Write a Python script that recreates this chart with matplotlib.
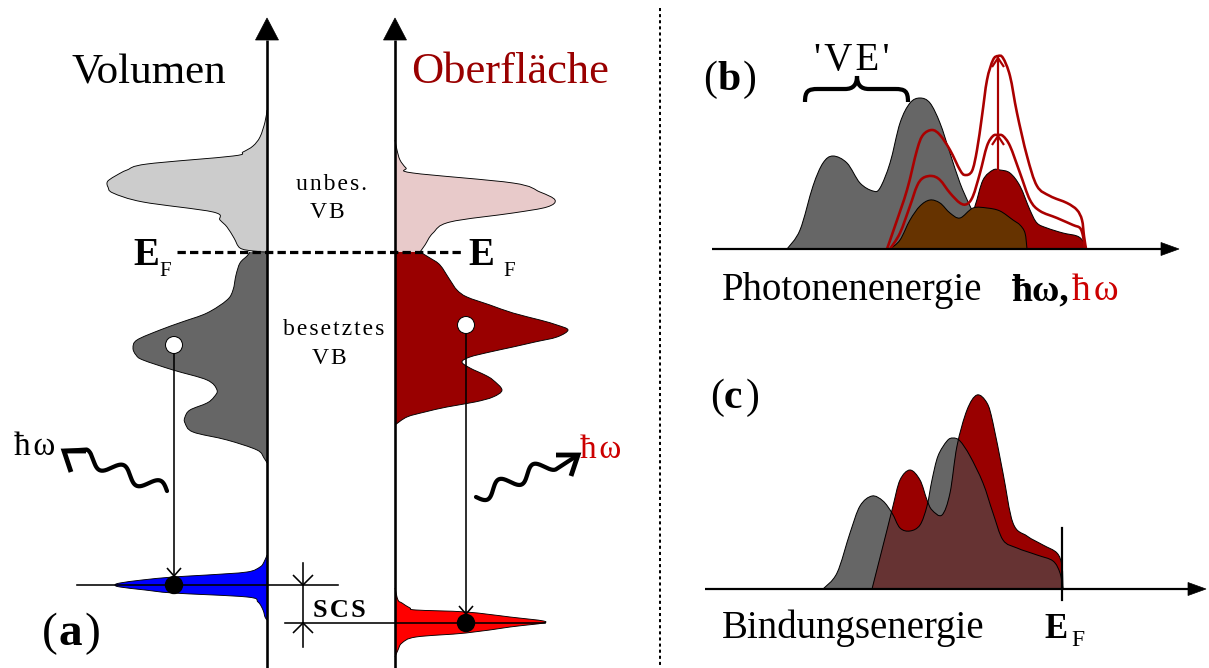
import matplotlib.pyplot as plt
import numpy as np
from matplotlib.patches import Polygon, Circle, PathPatch
from matplotlib.path import Path

plt.rcParams["font.family"] = ["Liberation Serif", "DejaVu Serif"]
plt.rcParams["lines.scale_dashes"] = False

W, H = 1209, 668
PX = 0.72  # points per pixel at dpi=100

# ---- panel (a): density of states, energy runs upward (canvas rows) ----
axis_vol_x = 267
axis_surf_x = 395
fermi_y = 252

vol_unocc_e = [110, 122, 137, 146, 152, 156, 164, 170, 175, 180, 183, 187, 193, 202, 212, 220, 227, 238, 248, 251, 252]
vol_unocc_d = [0, 2, 7, 14, 24, 34, 120, 140, 150, 158, 160, 159, 154, 124, 54, 47, 40, 33, 27, 14, 0]

vol_occ_e = [252, 256, 263, 275, 290, 300, 313, 322, 330, 340, 348, 355, 360, 370, 380, 390, 397, 403, 410, 417, 423, 432, 440, 450, 458, 463]
vol_occ_d = [17, 20, 27, 31, 34, 40, 60, 85, 107, 130, 134, 131, 124, 94, 60, 50, 53, 60, 77, 82, 82, 74, 40, 10, 3, 0]

vol_core_e = [555, 562, 567, 572, 575, 577, 580, 583, 585, 587, 590, 593, 597, 602, 610, 617, 620]
vol_core_d = [0, 3, 7, 20, 60, 94, 125, 147, 152, 147, 122, 94, 20, 9, 4, 2, 0]

surf_unocc_e = [140, 150, 160, 168, 173, 183, 192, 200, 207, 213, 222, 233, 245, 252]
surf_unocc_d = [0, 2, 5, 11, 18, 118, 145, 160, 152, 118, 55, 38, 30, 25]

surf_occ_e = [252, 258, 265, 280, 290, 297, 305, 313, 320, 325, 330, 337, 342, 347, 352, 357, 362, 368, 375, 380, 390, 397, 402, 407, 412, 417, 425]
surf_occ_d = [25, 35, 45, 55, 62, 72, 95, 118, 145, 162, 173, 162, 140, 118, 95, 75, 67, 75, 90, 98, 107, 98, 80, 52, 30, 12, 0]

surf_core_e = [588, 600, 603, 608, 610, 612, 617, 622, 627, 633, 637, 643, 650, 657]
surf_core_d = [0, 3, 7, 15, 21, 71, 115, 151, 115, 71, 21, 7, 3, 0]

vol_hole = (174, 345)
vol_core_y = 585
surf_hole = (466, 325)
surf_core_y = 623

# ---- panel (b): photon energy spectra ----
b_base = 249
b_gray_x = [787, 800, 813, 823, 833, 847, 860, 873, 880, 890, 900, 910, 920, 930, 940, 950, 960, 970, 980, 987]
b_gray_h = [0, 19, 63, 86, 93, 86, 66, 58, 61, 86, 126, 146, 151, 146, 126, 96, 66, 43, 23, 0]

b_red_x = [937, 967, 975, 983, 993, 1000, 1010, 1020, 1030, 1037, 1047, 1063, 1077, 1083, 1087]
b_red_h = [0, 23, 43, 69, 79, 79, 76, 63, 39, 26, 21, 16, 13, 8, 0]

b_brown_x = [890, 900, 910, 920, 930, 940, 950, 960, 973, 987, 1000, 1013, 1020, 1025, 1027]
b_brown_h = [0, 9, 29, 43, 49, 46, 36, 31, 41, 41, 38, 29, 24, 16, 0]

b_low_x = [890, 900, 910, 917, 923, 932, 940, 950, 960, 967, 973, 980, 987, 993, 998, 1003, 1010, 1020, 1030, 1040, 1057, 1073, 1080, 1083, 1085]
b_low_h = [0, 16, 43, 63, 71, 73, 69, 56, 46, 45, 53, 76, 103, 113, 114, 113, 103, 76, 49, 38, 31, 24, 21, 13, 0]

b_up_x = [887, 895, 907, 917, 923, 932, 940, 950, 960, 965, 972, 977, 982, 987, 993, 998, 1003, 1010, 1017, 1027, 1037, 1050, 1067, 1077, 1082, 1084, 1086]
b_up_h = [0, 23, 59, 99, 114, 119, 114, 99, 79, 74, 78, 99, 133, 169, 189, 193, 191, 173, 136, 93, 63, 53, 46, 39, 29, 13, 0]

b_peak_x = 998

# ---- panel (c): binding energy spectra ----
c_base = 589
c_gray_x = [823, 837, 850, 860, 872, 883, 892, 900, 910, 920, 927, 932, 938, 947, 953, 960, 970, 983, 993, 1003, 1017, 1037, 1053, 1060, 1063]
c_gray_h = [0, 16, 56, 83, 93, 88, 76, 61, 58, 64, 83, 109, 133, 148, 151, 148, 133, 106, 76, 49, 41, 34, 28, 16, 0]

c_red_x = [872, 887, 893, 900, 910, 920, 927, 932, 942, 950, 957, 967, 977, 987, 993, 1003, 1013, 1027, 1043, 1057, 1062, 1063]
c_red_h = [0, 59, 83, 109, 119, 109, 89, 79, 74, 96, 143, 179, 194, 186, 166, 116, 66, 53, 44, 36, 23, 0]

c_fermi_x = 1062

GRAY_L = "#cccccc"
GRAY_D = "#666666"
PINK = "#e8caca"
DRED = "#990000"
LINE_RED = "#aa0000"


def smooth_path(pts, close_to=None):
    """Catmull-Rom curve through pts as cubic Bezier segments."""
    P = np.asarray(pts, dtype=float)
    ext = np.vstack([P[0], P, P[-1]])
    verts = [P[0]]
    codes = [Path.MOVETO]
    for i in range(len(P) - 1):
        p0, p1, p2, p3 = ext[i], ext[i + 1], ext[i + 2], ext[i + 3]
        verts += [p1 + (p2 - p0) / 6, p2 - (p3 - p1) / 6, p2]
        codes += [Path.CURVE4] * 3
    if close_to is not None:
        for q in close_to:
            verts.append(q)
            codes.append(Path.LINETO)
        verts.append(P[0])
        codes.append(Path.CLOSEPOLY)
    return Path(verts, codes)


def dos(ax, axis_x, e, d, color, side):
    xs = axis_x + side * np.asarray(d, dtype=float)
    pts = np.column_stack([xs, e])
    path = smooth_path(pts, close_to=[(axis_x, e[-1]), (axis_x, e[0])])
    ax.add_patch(PathPatch(path, facecolor=color, edgecolor="none", zorder=2))
    ax.add_patch(PathPatch(smooth_path(pts), facecolor="none", edgecolor="black",
                           lw=0.9 * PX, zorder=2.2))


def spectrum(ax, x, h, base, color, z=2, outline=True):
    pts = np.column_stack([x, base - np.asarray(h, dtype=float)])
    patch = PathPatch(smooth_path(pts, close_to=[(x[-1], base), (x[0], base)]),
                      facecolor=color, edgecolor="none", zorder=z)
    ax.add_patch(patch)
    if outline:
        curve(ax, x, h, base, "black", 1.0, z + 0.5)
    return patch


def curve(ax, x, h, base, color, lw, z):
    pts = np.column_stack([x, base - np.asarray(h, dtype=float)])
    ax.add_patch(PathPatch(smooth_path(pts), facecolor="none", edgecolor=color,
                           lw=lw * PX, zorder=z))


def arrow_axis(ax, x0, y0, x1, y1, head_len, head_w, lw):
    d = np.array([x1 - x0, y1 - y0], dtype=float)
    d /= np.hypot(*d)
    n = np.array([-d[1], d[0]])
    tip = np.array([x1, y1], dtype=float)
    back = tip - d * head_len
    ax.plot([x0, back[0]], [y0, back[1]], color="black", lw=lw * PX,
            solid_capstyle="butt", zorder=5)
    tri = Polygon([tip, back + n * head_w, back - n * head_w], closed=True,
                  facecolor="black", edgecolor="black", lw=0.5, zorder=5)
    ax.add_patch(tri)


def chevron(ax, tip, arm1, arm2, lw, color="black", z=6):
    tx, ty = tip
    ax.plot([tx + arm1[0], tx, tx + arm2[0]], [ty + arm1[1], ty, ty + arm2[1]],
            color=color, lw=lw * PX, solid_joinstyle="miter", solid_capstyle="butt", zorder=z)


def photon(ax, start, end, tip, arm1, arm2, amp, waves):
    s = np.array(start, dtype=float)
    e = np.array(end, dtype=float)
    d = e - s
    n = np.array([-d[1], d[0]]) / np.hypot(*d)
    t = np.linspace(0, 1, 200)
    pts = s[None, :] + t[:, None] * d[None, :] + (amp * np.sin(2 * np.pi * waves * t))[:, None] * n[None, :]
    pts = np.vstack([pts, tip])
    ax.plot(pts[:, 0], pts[:, 1], color="black", lw=4.2 * PX,
            solid_capstyle="round", solid_joinstyle="round", zorder=6)
    chevron(ax, tip, arm1, arm2, 4.8)


def spaced(s, gap="\u200a"):
    return gap.join(s)


fig = plt.figure(figsize=(W / 100, H / 100), dpi=100)
ax = fig.add_axes([0, 0, 1, 1])
ax.set_xlim(0, W)
ax.set_ylim(H, 0)
ax.axis("off")

# ---------------- panel (a) ----------------
dos(ax, axis_vol_x, vol_unocc_e, vol_unocc_d, GRAY_L, -1)
dos(ax, axis_vol_x, vol_occ_e, vol_occ_d, GRAY_D, -1)
dos(ax, axis_vol_x, vol_core_e, vol_core_d, "#0000ff", -1)
dos(ax, axis_surf_x, surf_unocc_e, surf_unocc_d, PINK, 1)
dos(ax, axis_surf_x, surf_occ_e, surf_occ_d, DRED, 1)
dos(ax, axis_surf_x, surf_core_e, surf_core_d, "#ff0000", 1)

arrow_axis(ax, axis_vol_x, H, axis_vol_x, 18, 22, 11.5, 2.6)
arrow_axis(ax, axis_surf_x, H, axis_surf_x, 18, 22, 11.5, 2.6)

ax.plot([177, 463], [fermi_y, fermi_y], color="black", lw=3.2 * PX,
        dashes=(6.0, 3.0), zorder=4)

# core level reference lines and SCS marker
ax.plot([77, 338], [vol_core_y, vol_core_y], color="black", lw=1.6 * PX, zorder=4)
ax.plot([285, 545], [surf_core_y, surf_core_y], color="black", lw=1.6 * PX, zorder=4)
ax.plot([303, 303], [563, 647], color="black", lw=1.6 * PX, zorder=4)
chevron(ax, (303, vol_core_y), (-10, -10), (10, -10), 1.6)
chevron(ax, (303, surf_core_y), (-10, 10), (10, 10), 1.6)

# transitions: valence hole -> core level
for (hx, hy), cy in ((vol_hole, vol_core_y), (surf_hole, surf_core_y)):
    ax.plot([hx, hx], [hy + 8, cy - 9], color="black", lw=1.6 * PX, zorder=6)
    chevron(ax, (hx, cy - 9), (-7, -8), (7, -8), 1.6)
    ax.add_patch(Circle((hx, hy), 8.5, facecolor="white", edgecolor="black",
                        lw=1.0 * PX, zorder=7))
    ax.add_patch(Circle((hx, cy), 8.5, facecolor="black", edgecolor="black", zorder=7))

photon(ax, (167, 491), (84, 456), (64, 451), (22, 0), (7, 21), 7, 2.25)
photon(ax, (476, 497), (553, 463), (578, 455), (-22, 0), (-7, 21), 7, 2.25)

ax.text(72, 83, "Volumen", fontsize=31, ha="left", va="baseline")
ax.text(411, 83, "Oberfläche", fontsize=32, ha="left", va="baseline", color=DRED)
ax.text(332, 190, spaced("unbes."), fontsize=17, ha="center", va="baseline")
ax.text(327, 218, spaced("VB"), fontsize=17, ha="center", va="baseline")
ax.text(334, 335, spaced("besetztes"), fontsize=17, ha="center", va="baseline")
ax.text(329, 364, spaced("VB"), fontsize=17, ha="center", va="baseline")

for ex, fx in ((133, 159), (468, 503)):
    ax.text(ex, 265, "E", fontsize=28, fontweight="bold", ha="left", va="baseline")
    ax.text(fx, 276, "F", fontsize=15, ha="left", va="baseline")

ax.text(313, 617, spaced("SCS"), fontsize=19, fontweight="bold", ha="left", va="baseline")
ax.text(14, 455, spaced("ħω"), fontsize=24, ha="left", va="baseline")
ax.text(580, 458, spaced("ħω"), fontsize=24, ha="left", va="baseline", color="#cc0000")

ax.text(42, 645, "(", fontsize=34, ha="left", va="baseline")
ax.text(58, 645, "a", fontsize=34, fontweight="bold", ha="left", va="baseline")
ax.text(84, 645, ")", fontsize=34, ha="left", va="baseline")

# separator
ax.plot([660, 660], [8, H], color="black", lw=2.0 * PX, dashes=(2.2, 2.2), zorder=3)

# ---------------- panel (b) ----------------
spectrum(ax, b_gray_x, b_gray_h, b_base, GRAY_D)
spectrum(ax, b_red_x, b_red_h, b_base, DRED, z=3)
spectrum(ax, b_brown_x, b_brown_h, b_base, "#663300", z=4)
ax.plot([877, 1095], [b_base, b_base], color=LINE_RED, lw=2.0 * PX, zorder=4.8)
curve(ax, b_low_x, b_low_h, b_base, LINE_RED, 2.6, 5)
curve(ax, b_up_x, b_up_h, b_base, LINE_RED, 2.6, 5)

peak_red = b_base - max(b_red_h)
peak_low = b_base - max(b_low_h)
peak_up = b_base - max(b_up_h)
ax.plot([b_peak_x, b_peak_x], [peak_red, peak_up + 2], color=LINE_RED, lw=2.2 * PX, zorder=5)
chevron(ax, (b_peak_x, peak_low + 1), (-6, 9), (6, 9), 2.2, color=LINE_RED)
chevron(ax, (b_peak_x, peak_up + 2), (-6, 9), (6, 9), 2.2, color=LINE_RED)

arrow_axis(ax, 712, b_base, 1179, b_base, 18, 6.5, 2.2)

brace = Path([(805, 102), (805, 91), (808, 89), (818, 89),
              (845, 89), (853, 89), (857, 85), (857, 76),
              (857, 85), (861, 89), (869, 89),
              (895, 89), (905, 89), (908, 91), (908, 102)],
             [Path.MOVETO, Path.CURVE4, Path.CURVE4, Path.CURVE4,
              Path.LINETO, Path.CURVE4, Path.CURVE4, Path.CURVE4,
              Path.CURVE4, Path.CURVE4, Path.CURVE4,
              Path.LINETO, Path.CURVE4, Path.CURVE4, Path.CURVE4])
ax.add_patch(PathPatch(brace, facecolor="none", edgecolor="black", lw=4.2 * PX,
                       capstyle="butt", zorder=6))

ax.text(852, 70, spaced("'VE'"), fontsize=28, ha="center", va="baseline")
ax.text(703, 90, "(", fontsize=30, ha="left", va="baseline")
ax.text(717, 90, "b", fontsize=30, fontweight="bold", ha="left", va="baseline")
ax.text(743, 90, ")", fontsize=30, ha="left", va="baseline")
ax.text(722, 300, "Photonenenergie", fontsize=28, ha="left", va="baseline")
ax.text(1012, 300, "ħω,", fontsize=27, fontweight="bold", ha="left", va="baseline")
ax.text(1072, 300, spaced("ħω"), fontsize=27, ha="left", va="baseline", color="#cc0000")

# ---------------- panel (c) ----------------
gray_c = spectrum(ax, c_gray_x, c_gray_h, c_base, GRAY_D, z=2, outline=False)
spectrum(ax, c_red_x, c_red_h, c_base, DRED, z=2.6, outline=False)
overlap = spectrum(ax, c_red_x, c_red_h, c_base, "#663333", z=3, outline=False)
overlap.set_clip_path(gray_c)
curve(ax, c_gray_x, c_gray_h, c_base, "black", 1.0, 3.5)
curve(ax, c_red_x, c_red_h, c_base, "black", 1.0, 3.5)

arrow_axis(ax, 705, c_base, 1206, c_base, 18, 6.5, 2.2)
ax.plot([c_fermi_x, c_fermi_x], [528, 600], color="black", lw=2.2 * PX, zorder=6)

ax.text(710, 408, "(", fontsize=30, ha="left", va="baseline")
ax.text(724, 408, "c", fontsize=30, fontweight="bold", ha="left", va="baseline")
ax.text(746, 408, ")", fontsize=30, ha="left", va="baseline")
ax.text(722, 638, "Bindungsenergie", fontsize=28, ha="left", va="baseline")
ax.text(1044, 638, "E", fontsize=25, fontweight="bold", ha="left", va="baseline")
ax.text(1071, 646, "F", fontsize=17, ha="left", va="baseline")

fig.savefig("out.png", dpi=100)
